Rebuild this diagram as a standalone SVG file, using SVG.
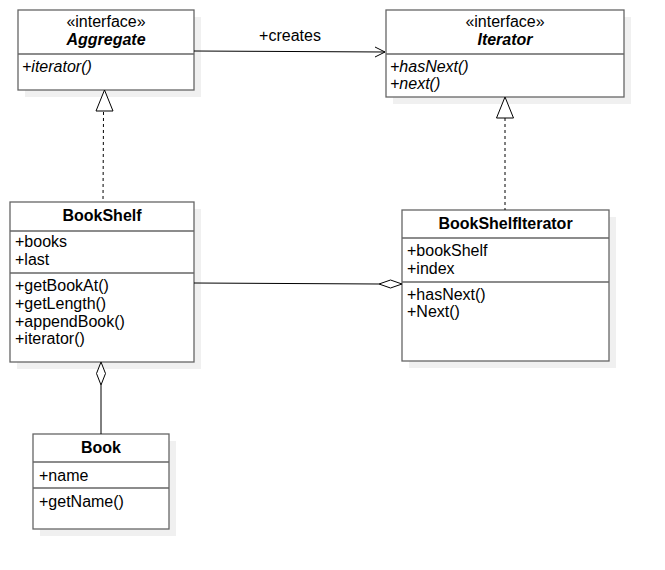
<svg xmlns="http://www.w3.org/2000/svg" width="665" height="570" viewBox="0 0 665 570">
<defs>
<style>
.shadow{fill:#f0f0f0;stroke:none}
.box{fill:#ffffff;stroke:#666666;stroke-width:1.3}
.div{stroke:#666666;stroke-width:1.3;fill:none}
text{font-family:"Liberation Sans",Arial,sans-serif;font-size:16px;fill:#000}
.title{font-weight:bold;text-anchor:middle}
.ital{font-style:italic}
.ster{text-anchor:middle}
.edge{stroke:#000;stroke-width:1;fill:none}
.dash{stroke:#000;stroke-width:1;fill:none;stroke-dasharray:3,3}
.hollow{fill:#fff;stroke:#000;stroke-width:1}
</style>
</defs>
<rect width="665" height="570" fill="#ffffff"/>
<g id="Aggregate">
<rect class="shadow" x="25" y="17" width="176" height="80"/>
<rect class="box" x="18" y="10" width="176" height="80"/>
<line class="div" x1="18" y1="54" x2="194" y2="54"/>
<text class="ster" x="106" y="27">«interface»</text>
<text class="title ital" x="106" y="45">Aggregate</text>
<text class="ital" x="22" y="72">+iterator()</text>
</g>
<g id="Iterator">
<rect class="shadow" x="393" y="17" width="238" height="87"/>
<rect class="box" x="386" y="10" width="238" height="87"/>
<line class="div" x1="386" y1="54" x2="624" y2="54"/>
<text class="ster" x="505" y="27">«interface»</text>
<text class="title ital" x="505" y="45">Iterator</text>
<text class="ital" x="390" y="72">+hasNext()</text>
<text class="ital" x="390" y="89">+next()</text>
</g>
<g id="BookShelf">
<rect class="shadow" x="17" y="209" width="184" height="160"/>
<rect class="box" x="10" y="202" width="184" height="160"/>
<line class="div" x1="10" y1="231" x2="194" y2="231"/>
<line class="div" x1="10" y1="273" x2="194" y2="273"/>
<text class="title" x="102" y="221">BookShelf</text>
<text x="15" y="247">+books</text>
<text x="15" y="265">+last</text>
<text x="15" y="291">+getBookAt()</text>
<text x="15" y="309">+getLength()</text>
<text x="15" y="327">+appendBook()</text>
<text x="15" y="344">+iterator()</text>
</g>
<g id="BookShelfIterator">
<rect class="shadow" x="409" y="217" width="207" height="151"/>
<rect class="box" x="402" y="210" width="207" height="151"/>
<line class="div" x1="402" y1="238" x2="609" y2="238"/>
<line class="div" x1="402" y1="282" x2="609" y2="282"/>
<text class="title" x="505.5" y="229">BookShelfIterator</text>
<text x="407" y="256">+bookShelf</text>
<text x="407" y="274">+index</text>
<text x="407" y="300">+hasNext()</text>
<text x="407" y="317">+Next()</text>
</g>
<g id="Book">
<rect class="shadow" x="40" y="441" width="136" height="95"/>
<rect class="box" x="33" y="434" width="136" height="95"/>
<line class="div" x1="33" y1="462" x2="169" y2="462"/>
<line class="div" x1="33" y1="488" x2="169" y2="488"/>
<text class="title" x="101" y="453">Book</text>
<text x="39" y="481">+name</text>
<text x="39" y="507">+getName()</text>
</g>
<g id="connectors">
<line class="edge" x1="194" y1="51" x2="385" y2="52"/>
<polyline class="edge" points="375,47 385,52 375,57"/>
<text class="ster" x="290" y="41">+creates</text>
<line class="dash" x1="103.5" y1="112" x2="103" y2="202"/>
<polygon class="hollow" points="104.5,90 96,111 113,111"/>
<line class="dash" x1="505" y1="118" x2="505" y2="210"/>
<polygon class="hollow" points="505,97 496.5,118 513.5,118"/>
<line class="edge" x1="194" y1="283" x2="379" y2="284"/>
<polygon class="hollow" points="402,284 390.5,280 379,284 390.5,288"/>
<line class="edge" x1="101" y1="385" x2="101" y2="434"/>
<polygon class="hollow" points="101,362 96.5,373.5 101,385 105.5,373.5"/>
</g>
</svg>
